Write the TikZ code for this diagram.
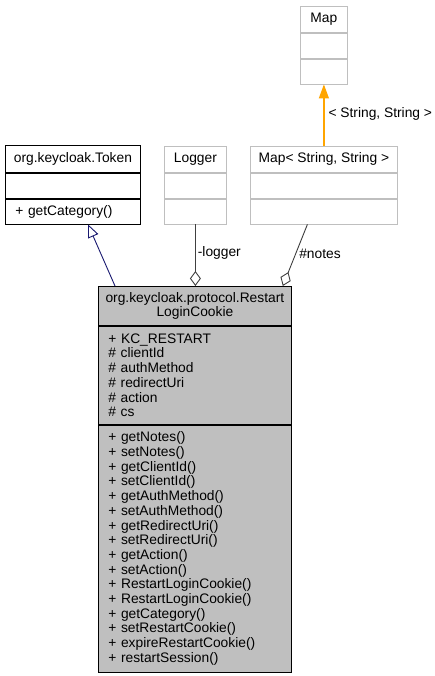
\documentclass[tikz,border=0pt]{standalone}
\usepackage{fontspec}
\setmainfont{Liberation Sans}
\usetikzlibrary{positioning, arrows.meta}
\definecolor{umlgray}{RGB}{191,191,191}
\definecolor{boxgray}{RGB}{191,191,191}
\definecolor{edgegray}{RGB}{64,64,64}
\definecolor{inhblue}{RGB}{25,25,112}
\definecolor{tmplorange}{RGB}{255,165,0}

\begin{document}
\begin{tikzpicture}[
  x=1pt, y=-1pt,
  every node/.style={font=\fontsize{13.8}{14.7}\selectfont},
  classhdr/.style={draw, line width=0.8pt, inner sep=0pt, align=center,
    anchor=north west},
  compart/.style={draw, line width=0.8pt, inner xsep=10pt, inner ysep=0pt,
    align=left},
  extbox/.style={draw=boxgray, fill=white},
  mainbox/.style={draw=black, fill=umlgray},
  inherit/.style={-{Triangle[open, length=13pt, width=11pt]}, color=inhblue,
    line width=0.9pt},
  tmplarrow/.style={-{Triangle[length=14pt, width=10pt]}, draw=tmplorange,
    fill=tmplorange, line width=1.2pt},
  aggr/.style={{Diamond[open, length=15pt, width=11pt]}-, color=edgegray,
    line width=0.9pt},
  elabel/.style={anchor=west, inner sep=2pt, text=black},
]

\useasboundingbox (0,0) rectangle (434,676);

% ===== Map (template) =====
\node[classhdr, extbox, minimum width=47pt, minimum height=26pt]
  (map) at (300,6) {Map};
\node[compart, extbox, minimum width=47pt, minimum height=25pt,
  below=0pt of map] (mapattr) {};
\node[compart, extbox, minimum width=47pt, minimum height=25pt,
  below=0pt of mapattr] (mapops) {};

% ===== Token =====
\node[classhdr, draw=black, minimum width=135pt, minimum height=27pt]
  (token) at (5,145) {org.keycloak.Token};
\node[compart, minimum width=135pt, minimum height=25pt,
  below=0pt of token] (tokenattr) {};
\node[compart, text width=115pt, minimum height=25pt,
  below=0pt of tokenattr] (tokenops) {+ getCategory()};

% ===== Logger =====
\node[classhdr, extbox, minimum width=62pt, minimum height=26pt]
  (logger) at (164,146) {Logger};
\node[compart, extbox, minimum width=62pt, minimum height=25pt,
  below=0pt of logger] (loggerattr) {};
\node[compart, extbox, minimum width=62pt, minimum height=25pt,
  below=0pt of loggerattr] (loggerops) {};

% ===== Map< String, String > =====
\node[classhdr, extbox, minimum width=147pt, minimum height=26pt]
  (mapss) at (250,146) {Map< String, String >};
\node[compart, extbox, minimum width=147pt, minimum height=25pt,
  below=0pt of mapss] (mapssattr) {};
\node[compart, extbox, minimum width=147pt, minimum height=25pt,
  below=0pt of mapssattr] (mapssops) {};

% ===== RestartLoginCookie =====
\node[classhdr, mainbox, minimum width=193pt, minimum height=39pt]
  (cookie) at (98,286) {org.keycloak.protocol.Restart\\LoginCookie};
\node[compart, mainbox, text width=173pt, minimum height=98pt,
  below=0pt of cookie] (cookieattr)
  {+ KC\_RESTART\\\# clientId\\\# authMethod\\\# redirectUri\\\# action\\\# cs};
\node[compart, mainbox, text width=173pt, minimum height=247pt,
  below=0pt of cookieattr] (cookieops)
  {+ getNotes()\\+ setNotes()\\+ getClientId()\\+ setClientId()\\
   + getAuthMethod()\\+ setAuthMethod()\\+ getRedirectUri()\\
   + setRedirectUri()\\+ getAction()\\+ setAction()\\
   + RestartLoginCookie()\\+ RestartLoginCookie()\\+ getCategory()\\
   + setRestartCookie()\\+ expireRestartCookie()\\+ restartSession()};

% Connectors
\draw[inherit] ([xshift=17pt]cookie.north west)
  -- ([xshift=83pt]tokenops.south west);
\draw[aggr] (loggerops.south |- cookie.north) -- (loggerops.south)
  node[elabel, pos=0.53] {-logger};
\draw[aggr] ([xshift=-9pt]cookie.north east)
  -- ([xshift=-16.5pt]mapssops.south)
  node[elabel, pos=0.53, inner xsep=3pt] {\#notes};
\draw[tmplarrow] (mapss.north) -- (mapops.south)
  node[elabel, pos=0.52, inner xsep=4pt] {< String, String >};

\end{tikzpicture}
\end{document}
